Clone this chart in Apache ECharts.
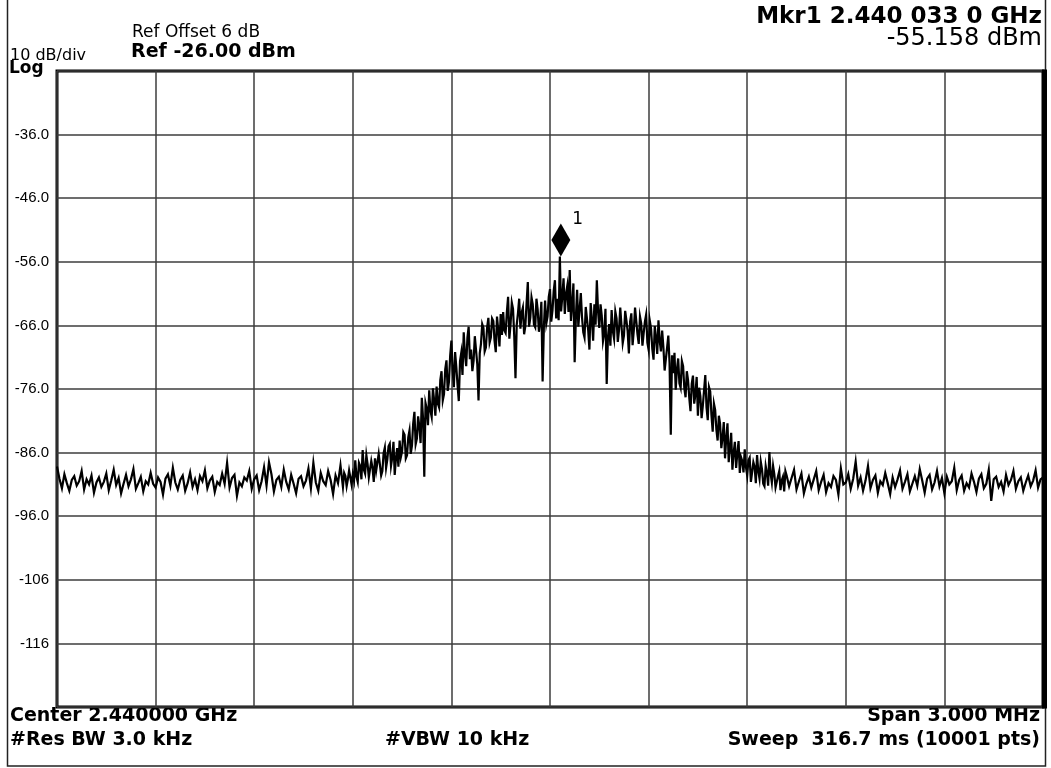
<!DOCTYPE html>
<html><head><meta charset="utf-8">
<script src="https://cdn.jsdelivr.net/npm/echarts@6/dist/echarts.min.js"></script>
<style>html,body{margin:0;padding:0;background:#fff}#c{width:1051px;height:768px}</style>
</head><body><div id="c"></div>
<script>
// Frequency axis: offset from center 2.440000 GHz in kHz, span 3.000 MHz
const freqStartKHz = -1500;
const freqStopKHz = 1500;
const freqStepKHz = 7.5;          // 401 displayed points across the span
const freqDivKHz = 300;

// Trace levels (dBm) from left to right
const traceDbm = [
 -88.2,-90.1,-91.6,-89.4,-90.8,-92.0,-90.3,-89.7,-91.2,-90.5,-88.9,-91.8,-90.2,-91.0,-89.6,-92.3,-90.7,-89.9,-91.4,-90.6,
 -89.3,-91.9,-90.4,-88.7,-91.1,-90.0,-92.4,-90.9,-89.5,-91.3,-90.2,-88.6,-91.7,-90.8,-89.8,-92.1,-90.5,-91.0,-89.2,-90.9,
 -91.5,-89.9,-90.6,-92.6,-90.1,-89.4,-91.2,-88.4,-90.7,-91.8,-90.3,-89.6,-92.0,-90.8,-89.1,-91.4,-90.2,-91.9,-89.7,-90.5,
 -88.8,-91.6,-90.4,-89.8,-92.2,-90.6,-91.1,-89.3,-90.9,-87.6,-91.5,-90.0,-89.5,-92.8,-90.7,-91.3,-89.9,-90.4,-88.9,-91.7,
 -90.2,-89.6,-91.9,-90.5,-88.3,-91.2,-87.5,-89.4,-92.1,-90.3,-89.8,-91.4,-88.7,-90.6,-91.8,-89.5,-90.9,-92.4,-90.1,-89.7,
 -91.3,-90.4,-88.5,-91.6,-87.6,-90.7,-92.0,-89.2,-90.5,-91.1,-88.9,-90.3,-92.5,-89.6,-90.8,-88.0,-91.4,-89.7,-90.2,-89.1,
 -89.4,-87.2,-90.6,-88.1,-85.6,-89.3,-87.8,-90.1,-88.4,-86.9,
 -89.0,-86.5,-88.9,-85.2,-87.1,-84.6,-86.8,-89.5,-85.3,-84.1,
 -85.8,-83.2,-86.4,-82.5,-84.9,-79.6,-83.8,-81.9,-77.4,-89.8,
 -79.1,-76.2,-80.4,-77.8,-75.6,-78.9,-73.2,-76.8,-71.5,-74.9,
 -68.4,-75.7,-72.6,-77.9,-70.3,-67.1,-72.4,-66.2,-69.8,-71.6,
 -67.5,-77.8,-68.9,-66.4,-69.5,-64.8,-67.9,-65.3,-70.2,-66.7,
 -64.2,-63.9,-67.2,-61.5,-65.8,-63.4,-74.3,-64.1,-66.5,-63.2,
 -66.1,-59.2,-64.8,-62.7,-66.3,-63.5,-65.4,-74.8,-62.1,-64.6,
 -60.3,-63.7,-58.9,-61.8,-55.16,-61.4,-64.2,-59.8,-57.3,-62.6,
 -71.8,-60.4,-63.5,-64.8,-67.9,-63.2,-69.8,-65.1,-62.7,-58.9,
 -66.4,-64.5,-67.3,-75.2,-65.8,-63.6,-68.1,-64.9,-66.7,-62.9,
 -67.6,-65.2,-70.4,-64.1,-66.8,-63.5,-68.9,-65.7,-67.2,-64.3,
 -69.8,-66.5,-71.4,-67.9,-65.2,-70.1,-69.4,-72.8,-67.6,-83.2,
 -73.5,-76.1,-71.2,-75.8,-72.4,-77.3,-74.6,-79.5,-73.9,-76.8,
 -80.2,-77.1,-78.6,-73.8,-80.9,-76.4,-82.7,-79.3,-84.1,-81.5,
 -83.6,-86.9,-81.4,-85.2,-88.7,-84.3,-86.1,-89.2,-87.3,-85.5,
 -89.6,-86.8,-90.4,-88.2,-86.4,-90.1,-88.6,-91.3,-89.2,-85.9,
 -90.7,-89.4,-91.6,-88.9,
 -90.4,-92.1,-89.6,-91.3,-90.0,-88.7,-91.8,-90.5,-89.3,-92.4,-90.9,-89.8,-91.5,-90.2,-88.9,-91.9,-90.6,-89.5,-92.2,-90.8,
 -91.4,-89.7,-90.3,-92.6,-88.5,-91.0,-90.7,-89.4,-91.7,-90.1,-87.4,-91.2,-89.9,-92.0,-90.4,-88.1,-91.6,-90.3,-89.6,-92.3,
 -90.5,-91.1,-89.2,-90.8,-92.5,-89.9,-91.4,-90.2,-88.8,-91.7,-90.6,-89.4,-92.1,-90.9,-89.7,-91.2,-88.6,-90.4,-92.3,-90.1,
 -89.5,-91.8,-90.7,-88.9,-91.3,-90.0,-92.4,-89.8,-91.0,-90.5,-88.4,-91.9,-90.3,-89.6,-92.0,-90.8,-91.5,-89.3,-90.6,-92.2,
 -90.1,-89.4,-91.6,-90.9,-88.7,-93.6,-90.2,-89.8,-91.4,-90.6,-92.1,-89.5,-91.1,-90.3,-88.9,-91.7,-90.5,-89.9,-92.0,-90.7,
 -89.6,-91.3,-90.4,-88.8,-91.5,-90.2,-89.9
];

// Extra trace readings in the signal region, half a step after points 116..295
const bandExtraStartIndex = 116;
const bandExtraDbm = [
 -89.2,-91.3,-88.8,-91.0,-90.4,-89.8,-87.6,-90.2,-88.7,-86.4,
 -89.9,-87.3,-90.6,-88.8,-86.2,-89.6,-86.1,-88.4,-85.0,-88.1,
 -84.3,-86.9,-88.2,-86.7,-82.8,-86.9,-83.6,-86.2,-81.4,-84.7,
 -80.3,-84.5,-80.6,-78.2,-81.7,-79.4,-75.9,-80.2,-78.3,-74.6,
 -77.8,-72.9,-76.3,-70.8,-73.1,-70.2,-75.4,-71.6,-73.8,-70.6,
 -67.9,-71.3,-73.2,-67.7,-72.1,-70.4,-65.8,-70.1,-66.3,-68.7,
 -64.9,-68.4,-64.6,-69.3,-67.5,-66.8,-63.9,-68.1,-62.4,-67.7,
 -65.9,-61.8,-64.0,-67.4,-62.5,-66.2,-61.6,-65.9,-61.8,-67.0,
 -62.3,-66.4,-65.7,-61.5,-65.4,-60.6,-64.9,-65.2,-63.8,-58.6,
 -61.0,-63.9,-65.3,-59.4,-64.7,-66.2,-60.9,-67.1,-63.1,-66.8,
 -62.5,-68.4,-65.9,-63.8,-62.7,-68.5,-63.4,-67.9,-69.2,-66.9,
 -63.8,-68.6,-63.2,-68.8,-63.7,-66.9,-65.4,-69.1,-63.2,-67.4,
 -64.6,-69.2,-65.4,-68.7,-65.3,-69.7,-66.1,-70.5,-68.4,-66.8,
 -73.1,-69.5,-71.9,-70.7,-70.3,-72.9,-75.1,-71.6,-75.9,-73.2,
 -77.4,-75.2,-78.3,-74.1,-75.8,-80.6,-76.2,-78.9,-75.7,-80.1,
 -78.3,-82.4,-80.2,-85.3,-81.2,-83.7,-87.5,-82.9,-86.0,-88.4,
 -84.2,-86.7,-89.1,-88.3,-87.2,-90.6,-87.5,-90.8,-88.9,-87.4,
 -90.9,-88.1,-91.2,-89.3,-88.1,-91.5,-89.7,-91.9,-89.8,-88.9
];

// Amplitude scale: Ref -26 dBm, 10 dB/div, 10 divisions
const refLevel = -26;
const bottomLevel = -126;
const yTickLabels = ['', '-116', '-106', '-96.0', '-86.0', '-76.0', '-66.0', '-56.0', '-46.0', '-36.0', ''];

// Marker 1
const markerFreqKHz = 33;
const markerLevel = -55.158;

const headerTexts = {
  refOffset: 'Ref Offset 6 dB',
  ref: 'Ref -26.00 dBm',
  scale: '10 dB/div',
  log: 'Log',
  mkrFreq: 'Mkr1 2.440 033 0 GHz',
  mkrLevel: '-55.158 dBm'
};
const footerTexts = {
  center: 'Center 2.440000 GHz',
  rbw: '#Res BW 3.0 kHz',
  vbw: '#VBW 10 kHz',
  span: 'Span 3.000 MHz',
  sweep: 'Sweep  316.7 ms (10001 pts)'
};

const seriesData = traceDbm.map((v, i) => [freqStartKHz + i * freqStepKHz, v])
  .concat(bandExtraDbm.map((v, k) => [freqStartKHz + (bandExtraStartIndex + k + 0.5) * freqStepKHz, v]))
  .sort((a, b) => a[0] - b[0]);

const chart = echarts.init(document.getElementById('c'), null, {renderer: 'canvas'});
const F = 'DejaVu Sans';
function txt(text, x, y, size, bold, align) {
  return {type: 'text', x: x, y: y, silent: true,
    style: {text: text, fill: '#000', font: (bold ? 'bold ' : '') + size + 'px "' + F + '"',
      textAlign: align || 'left', textVerticalAlign: 'middle'}};
}

chart.setOption({
  animation: false,
  backgroundColor: '#fff',
  grid: {left: 57, top: 71, width: 986, height: 636, show: true, borderColor: '#000', borderWidth: 3, backgroundColor: 'transparent'},
  xAxis: {type: 'value', min: freqStartKHz, max: freqStopKHz, interval: freqDivKHz,
    axisLine: {show: false}, axisTick: {show: false}, axisLabel: {show: false},
    splitLine: {show: true, lineStyle: {color: '#3c3c3c', width: 1.5}}},
  yAxis: [
    {type: 'value', min: 0, max: 100, interval: 10, position: 'left',
      axisLine: {show: false}, axisTick: {show: false},
      axisLabel: {show: true, margin: 8, color: '#000', fontSize: 15, fontFamily: 'Liberation Sans',
        formatter: v => yTickLabels[Math.round(v / 10)]},
      splitLine: {show: true, lineStyle: {color: '#3c3c3c', width: 1.5}}},
    {type: 'value', min: bottomLevel, max: refLevel, show: false}
  ],
  series: [{
    type: 'line', yAxisIndex: 1, data: seriesData, showSymbol: false, symbol: 'none',
    lineStyle: {color: '#000', width: 2.2, join: 'miter'}, z: 5,
    markPoint: {
      symbol: 'diamond', symbolSize: [19, 33], symbolOffset: [0, '-50%'],
      itemStyle: {color: '#000'},
      label: {show: true, formatter: '1', position: [21, -12], color: '#000', fontSize: 17, fontFamily: F},
      data: [{coord: [markerFreqKHz, markerLevel]}]
    }
  }],
  graphic: [
    {type: 'rect', silent: true, shape: {x: 7.5, y: -5, width: 1038, height: 771}, style: {fill: 'none', stroke: '#222', lineWidth: 1.5}},
    {type: 'rect', silent: true, z: 10, shape: {x: 1042, y: 69.5, width: 5, height: 639}, style: {fill: '#000'}},
    txt(headerTexts.refOffset, 132, 33, 17, false),
    txt(headerTexts.ref, 131, 52, 19, true),
    txt(headerTexts.scale, 10, 56, 16, false),
    txt(headerTexts.log, 9, 69, 17, true),
    txt(headerTexts.mkrFreq, 1042, 17, 23, true, 'right'),
    txt(headerTexts.mkrLevel, 1042, 39, 24, false, 'right'),
    txt(footerTexts.center, 10, 716, 19, true),
    txt(footerTexts.rbw, 10, 740, 19, true),
    txt(footerTexts.vbw, 385, 740, 19, true),
    txt(footerTexts.span, 1040, 716, 19, true, 'right'),
    txt(footerTexts.sweep, 1040, 740, 19, true, 'right')
  ]
});
</script></body></html>
